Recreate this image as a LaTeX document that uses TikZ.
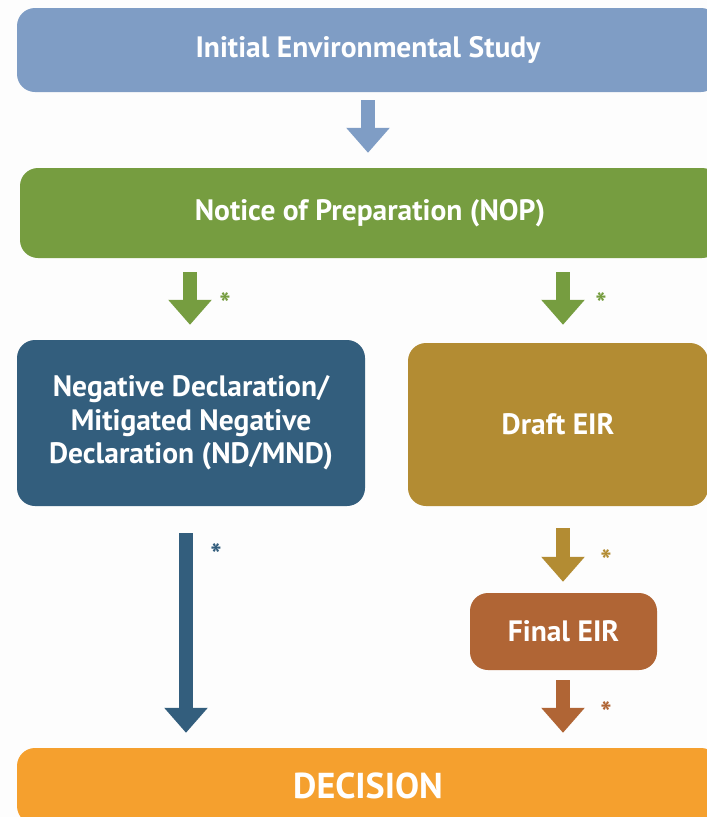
\documentclass[tikz,border=0pt]{standalone}
\usepackage{fontspec}
\setmainfont{PT Sans}
\usetikzlibrary{arrows.meta}
\definecolor{cblue}{HTML}{7F9DC5}
\definecolor{cgreen}{HTML}{769D40}
\definecolor{cnavy}{HTML}{335E7D}
\definecolor{cgold}{HTML}{B38C33}
\definecolor{cbrown}{HTML}{B06535}
\definecolor{corange}{HTML}{F5A02E}
\definecolor{cbg}{HTML}{FDFDFD}
\tikzset{
  box/.style={rounded corners=18pt, inner sep=0pt, text=white, align=center,
    font=\fontsize{29.5}{33.5}\selectfont\bfseries},
  blockarrow/.style={line width=14pt, -{Triangle[width=42pt,length=25pt]}},
  star/.style={font=\fontsize{30}{30}\selectfont\bfseries, inner sep=0pt}
}
\begin{document}
\begin{tikzpicture}[x=1pt,y=-1pt]
\useasboundingbox (0,0) rectangle (707,817);
\clip (0,0) rectangle (707,817);
\fill[cbg] (0,0) rectangle (707,817);

\node[box, fill=cblue, minimum width=702pt, minimum height=84pt] (ies) at (368,50) {Initial Environmental Study};
\node[box, fill=cgreen, minimum width=700pt, minimum height=90pt] (nop) at (370,213) {Notice of Preparation (NOP)};
\node[box, fill=cnavy, minimum width=348pt, minimum height=166pt] (nd) at (191,423) {Negative Declaration/\\Mitigated Negative\\Declaration (ND/MND)};
\node[box, fill=cgold, minimum width=300pt, minimum height=163pt] (draft) at (558,424.5) {Draft EIR};
\node[box, fill=cbrown, minimum width=187pt, minimum height=77pt] (final) at (563.5,631.5) {Final EIR};
\node[box, fill=corange, minimum width=702pt, minimum height=76pt, font=\fontsize{36}{36}\selectfont\bfseries] (dec) at (368,786) {DECISION};

\draw[blockarrow, cblue] ([shift={(0,8)}]ies.south) -- ([shift={(-2,-15)}]nop.north);
\draw[blockarrow, cgreen] ([shift={(-1,14)}]nd.north |- nop.south) -- ([shift={(-1,-15)}]nd.north);
\draw[blockarrow, cgreen] ([shift={(5,14)}]draft.north |- nop.south) -- ([shift={(5,-18)}]draft.north);
\draw[blockarrow, cnavy] ([shift={(-5,27)}]nd.south) -- ([shift={(-182,-15)}]dec.north);
\draw[blockarrow, cgold] ([shift={(5,22)}]draft.south) -- ([shift={(-0.5,-11)}]final.north);
\draw[blockarrow, cbrown] ([shift={(-0.5,10)}]final.south) -- ([shift={(195,-15)}]dec.north);

\node[star, text=cgreen] (s1) at (225,304) {*};
\node[star, text=cgreen] (s2) at (601,304) {*};
\node[star, text=cnavy] (s3) at (216,555) {*};
\node[star, text=cgold] (s4) at (606,561) {*};
\node[star, text=cbrown] (s5) at (606,713) {*};
\end{tikzpicture}
\end{document}
